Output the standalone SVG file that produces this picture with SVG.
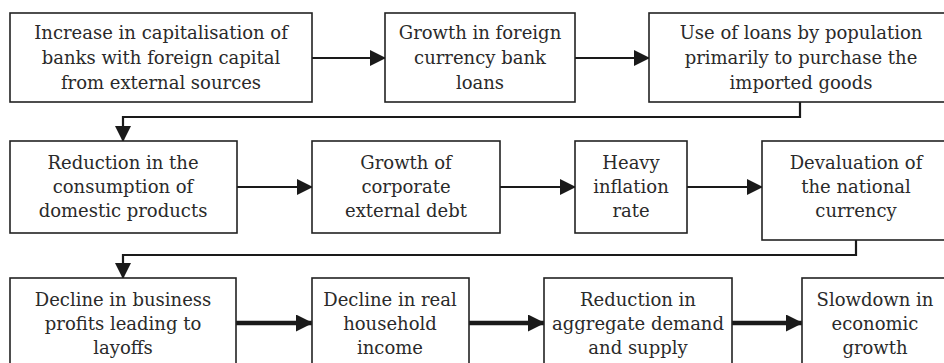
<svg xmlns="http://www.w3.org/2000/svg" width="944" height="363" viewBox="0 0 944 363">
<style>
.box{fill:#fff;stroke:#222;stroke-width:1.6}
.c{fill:none;stroke:#1a1a1a;stroke-width:2.2}
.ck{fill:none;stroke:#1a1a1a;stroke-width:4.5}
text{font-family:"DejaVu Serif",serif;font-size:18px;fill:#2a2a2a;text-anchor:middle}
</style>
<defs>
<marker id="ah" markerUnits="userSpaceOnUse" viewBox="0 0 16 16" markerWidth="16" markerHeight="16" refX="15" refY="8" orient="auto">
<path d="M0,0 L16,8 L0,16 z" fill="#1a1a1a"/>
</marker>
<marker id="ahk" markerUnits="userSpaceOnUse" viewBox="0 0 17 17" markerWidth="17" markerHeight="17" refX="16" refY="8.5" orient="auto">
<path d="M0,0 L17,8.5 L0,17 z" fill="#1a1a1a"/>
</marker>
</defs>
<rect width="944" height="363" fill="#fff"/>
<g id="connectors">
<line class="c" x1="310" y1="58" x2="385" y2="58" marker-end="url(#ah)"/>
<line class="c" x1="572" y1="58" x2="649" y2="58" marker-end="url(#ah)"/>
<polyline class="c" points="800,102 800,117 123,117 123,141" marker-end="url(#ah)"/>
<line class="c" x1="235" y1="187" x2="312" y2="187" marker-end="url(#ah)"/>
<line class="c" x1="497" y1="187" x2="575" y2="187" marker-end="url(#ah)"/>
<line class="c" x1="685" y1="187" x2="762" y2="187" marker-end="url(#ah)"/>
<polyline class="c" points="856,240 856,255 123,255 123,278" marker-end="url(#ah)"/>
<line class="ck" x1="236" y1="323" x2="312" y2="323" marker-end="url(#ahk)"/>
<line class="ck" x1="469" y1="323" x2="544" y2="323" marker-end="url(#ahk)"/>
<line class="ck" x1="732" y1="323" x2="802" y2="323" marker-end="url(#ahk)"/>
</g>
<g id="n1"><rect class="box" x="10" y="13" width="302" height="89"/>
<text x="161" y="39">Increase in capitalisation of</text>
<text x="161" y="64">banks with foreign capital</text>
<text x="161" y="89">from external sources</text></g>
<g id="n2"><rect class="box" x="385" y="13" width="190" height="89"/>
<text x="480" y="39">Growth in foreign</text>
<text x="480" y="64">currency bank</text>
<text x="480" y="89">loans</text></g>
<g id="n3"><rect class="box" x="649" y="13" width="310" height="89"/>
<text x="801" y="39">Use of loans by population</text>
<text x="801" y="64">primarily to purchase the</text>
<text x="801" y="89">imported goods</text></g>
<g id="n4"><rect class="box" x="10" y="141" width="227" height="92"/>
<text x="123" y="169">Reduction in the</text>
<text x="123" y="193">consumption of</text>
<text x="123" y="217">domestic products</text></g>
<g id="n5"><rect class="box" x="312" y="141" width="188" height="92"/>
<text x="406" y="169">Growth of</text>
<text x="406" y="193">corporate</text>
<text x="406" y="217">external debt</text></g>
<g id="n6"><rect class="box" x="575" y="141" width="112" height="92"/>
<text x="631" y="169">Heavy</text>
<text x="631" y="193">inflation</text>
<text x="631" y="217">rate</text></g>
<g id="n7"><rect class="box" x="762" y="141" width="200" height="99"/>
<text x="856" y="169">Devaluation of</text>
<text x="856" y="193">the national</text>
<text x="856" y="217">currency</text></g>
<g id="n8"><rect class="box" x="10" y="278" width="226" height="100"/>
<text x="123" y="306">Decline in business</text>
<text x="123" y="330">profits leading to</text>
<text x="123" y="354">layoffs</text></g>
<g id="n9"><rect class="box" x="312" y="278" width="157" height="100"/>
<text x="390" y="306">Decline in real</text>
<text x="390" y="330">household</text>
<text x="390" y="354">income</text></g>
<g id="n10"><rect class="box" x="544" y="278" width="188" height="100"/>
<text x="638" y="306">Reduction in</text>
<text x="638" y="330">aggregate demand</text>
<text x="638" y="354">and supply</text></g>
<g id="n11"><rect class="box" x="802" y="278" width="160" height="100"/>
<text x="875" y="306">Slowdown in</text>
<text x="875" y="330">economic</text>
<text x="875" y="354">growth</text></g>
</svg>
